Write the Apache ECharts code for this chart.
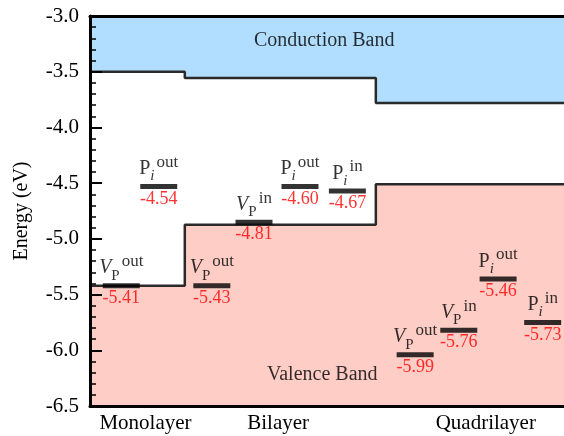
<!DOCTYPE html>
<html>
<head>
<meta charset="utf-8">
<script src="https://cdn.jsdelivr.net/npm/echarts@6/dist/echarts.min.js"></script>
<style>
  html, body { margin: 0; padding: 0; background: #fff; }
  #main { width: 564px; height: 436px; }
</style>
</head>
<body>
<div id="main"></div>
<script>
// 层数分区 (x 轴单位 0-10)
var layerNames = ['Monolayer', 'Bilayer', 'Quadrilayer'];
var layerLabelPos = [1.17, 3.97, 8.35];
var layerEdges = [0, 2.0, 6.03, 10];

// 导带 / 价带 能级
var cbLevels = [-3.5, -3.557, -3.78];
var vbLevels = [-5.42, -4.873, -4.51];

// 各能级短线
var barX = [0.66, 1.45, 2.57, 3.46, 4.43, 5.43, 6.86, 7.78, 8.61, 9.55];
var barLevels = [-5.42, -4.53, -5.42, -4.85, -4.53, -4.57, -6.04, -5.82, -5.36, -5.75];
var levelLabels = ['-5.41', '-4.54', '-5.43', '-4.81', '-4.60', '-4.67', '-5.99', '-5.76', '-5.46', '-5.73'];
var defectKind = ['V', 'P', 'V', 'V', 'P', 'P', 'V', 'V', 'P', 'P'];
var defectSup = ['out', 'out', 'out', 'in', 'out', 'in', 'out', 'in', 'out', 'in'];

var serif = 'Liberation Serif';

function stepLine(levels) {
    var pts = [];
    levels.forEach(function (lv, i) {
        pts.push([layerEdges[i], lv]);
        pts.push([layerEdges[i + 1], lv]);
    });
    return pts;
}

var bars = barX.map(function (x, i) { return [x, barLevels[i]]; });

var chart = echarts.init(document.getElementById('main'));
var option = {
    animation: false,
    grid: { left: 90, right: 0, top: 16, bottom: 30 },
    xAxis: [{
        type: 'value',
        min: 0,
        max: 10,
        z: 10,
        splitLine: { show: false },
        axisTick: { show: false },
        axisLine: { lineStyle: { color: '#000', width: 3 } },
        axisLabel: {
            customValues: layerLabelPos,
            margin: 7,
            color: '#000',
            fontFamily: serif,
            fontSize: 21,
            formatter: function (v) {
                var idx = 0;
                layerLabelPos.forEach(function (p, i) {
                    if (Math.abs(p - v) < Math.abs(layerLabelPos[idx] - v)) idx = i;
                });
                return layerNames[idx];
            }
        }
    }, {
        type: 'value',
        position: 'top',
        min: 0,
        max: 10,
        z: 10,
        splitLine: { show: false },
        axisTick: { show: false },
        axisLabel: { show: false },
        axisLine: { lineStyle: { color: '#000', width: 3 } }
    }],
    yAxis: {
        type: 'value',
        min: -6.5,
        max: -3.0,
        interval: 0.5,
        z: 10,
        name: 'Energy (eV)',
        nameLocation: 'middle',
        nameGap: 58,
        nameTextStyle: { fontFamily: serif, fontSize: 20, color: '#000' },
        splitLine: { show: false },
        axisLine: { lineStyle: { color: '#000', width: 3 } },
        axisTick: { inside: true, length: 12, lineStyle: { color: '#000', width: 2 } },
        minorTick: { show: true, splitNumber: 5, length: 6, lineStyle: { color: '#000', width: 1.5 } },
        axisLabel: {
            margin: 11,
            color: '#000',
            fontFamily: serif,
            fontSize: 21,
            formatter: function (v) { return v.toFixed(1); }
        }
    },
    series: [{
        name: 'Conduction Band',
        type: 'line',
        data: stepLine(cbLevels),
        symbol: 'none',
        lineStyle: { color: '#2a2a2a', width: 2.5 },
        areaStyle: { color: '#b1ddfe', opacity: 1, origin: 'end' },
        z: 1
    }, {
        name: 'Valence Band',
        type: 'line',
        data: stepLine(vbLevels),
        symbol: 'none',
        lineStyle: { color: '#2a2a2a', width: 2.5 },
        areaStyle: { color: '#fdcdc6', opacity: 1, origin: 'start' },
        z: 1
    }, {
        // 能级短线 + 红色数值
        type: 'scatter',
        data: bars,
        symbol: 'rect',
        symbolSize: [37, 5],
        itemStyle: { color: '#000' },
        label: {
            show: true,
            position: 'bottom',
            distance: 1,
            color: '#ff0000',
            fontFamily: serif,
            fontSize: 18,
            formatter: function (p) { return levelLabels[p.dataIndex]; }
        },
        z: 3
    }, {
        // 缺陷名称
        type: 'scatter',
        data: bars,
        symbol: 'rect',
        symbolSize: [37, 5],
        itemStyle: { color: 'transparent' },
        label: {
            show: true,
            position: 'top',
            distance: 0,
            formatter: function (p) {
                var i = p.dataIndex;
                if (defectKind[i] === 'V') {
                    return '{vm|V}{vs|P}{sup|' + defectSup[i] + '}';
                }
                return '{pm|P}{ps|i}{sup|' + defectSup[i] + '}';
            },
            rich: {
                vm: { fontFamily: serif, fontStyle: 'italic', fontSize: 20, color: '#000', lineHeight: 30, verticalAlign: 'middle' },
                vs: { fontFamily: serif, fontSize: 15, color: '#000', lineHeight: 14, verticalAlign: 'bottom' },
                pm: { fontFamily: serif, fontSize: 20, color: '#000', lineHeight: 30, verticalAlign: 'middle' },
                ps: { fontFamily: serif, fontStyle: 'italic', fontSize: 15, color: '#000', lineHeight: 14, verticalAlign: 'bottom' },
                sup: { fontFamily: serif, fontSize: 17, color: '#000', lineHeight: 14, verticalAlign: 'top', padding: [0, 0, 0, 2] }
            }
        },
        z: 4
    }, {
        // 能带名称
        type: 'scatter',
        data: [[4.94, -3.225], [4.9, -6.22]],
        symbolSize: 1,
        itemStyle: { color: 'transparent' },
        label: {
            show: true,
            position: 'inside',
            color: '#000',
            fontFamily: serif,
            fontSize: 20,
            formatter: function (p) { return ['Conduction Band', 'Valence Band'][p.dataIndex]; }
        },
        z: 2
    }]
};
chart.setOption(option);
</script>
</body>
</html>
